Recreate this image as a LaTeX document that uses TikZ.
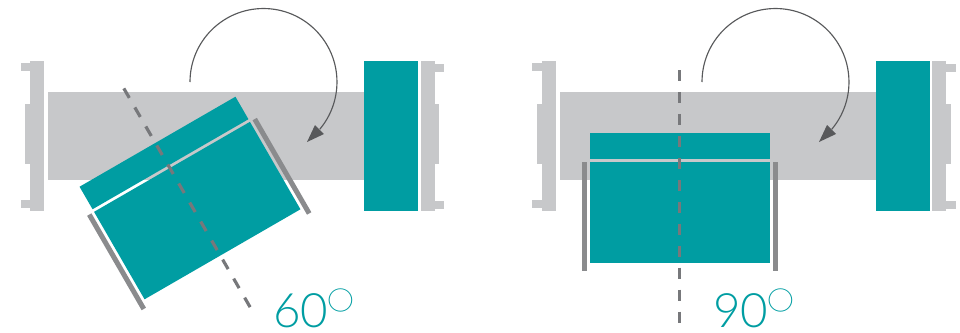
\documentclass[tikz,border=0pt]{standalone}
\usepackage{fontspec}
\usepackage{tikz}
\setmainfont{Lato Light}
\newfontfamily\degfont{Lato Thin}
\definecolor{tealc}{HTML}{009DA2}
\definecolor{barc}{HTML}{C7C8CA}
\definecolor{sidec}{HTML}{8A8B8D}
\definecolor{axisc}{HTML}{77787B}
\definecolor{arcc}{HTML}{58595B}
\newcommand{\degmark}{\hspace{-2.5pt}\raisebox{-12.5pt}{\degfont\fontsize{48}{48}\selectfont °}}
\tikzset{
  panel/.style={fill=tealc, draw=none},
  frame/.style={fill=barc, draw=none},
  sidebar/.style={fill=sidec, draw=none},
  axisline/.style={draw=axisc, line width=1.8pt, dash pattern=on 6.25pt off 6.25pt},
  swing/.style={draw=arcc, line width=0.65pt},
  swinghead/.style={fill=arcc, draw=none},
  angle/.style={text=tealc, font=\fontsize{27}{27}\selectfont, inner sep=0pt, anchor=base west}
}
\begin{document}
\begin{tikzpicture}[x=0.02cm, y=-0.02cm]
    \useasboundingbox (0,0) rectangle (960,332);

    % Left door
    \fill[frame] (30,61) rectangle (44,211);
    \fill[frame] (21,63) rectangle (30,71);
    \fill[frame] (21,200) rectangle (30,208);
    \fill[frame] (25,104) rectangle (30,164);
    \fill[frame] (48,92) rectangle (364,180);
    \fill[panel] (364,61) rectangle (418,211);
    \fill[frame] (421,61) rectangle (435,211);
    \fill[frame] (435,64) rectangle (444,72);
    \fill[frame] (435,201) rectangle (444,209);
    \fill[frame] (435,104) rectangle (439,164);

    \begin{scope}[shift={(190,198)}, rotate=30]
        \fill[panel] (-90,-65) rectangle (90,-39);
        \fill[panel] (-90,-36) rectangle (90,65);
        \fill[sidebar] (-98,-36) rectangle (-93,73);
        \fill[sidebar] (93,-36) rectangle (98,73);
        \coordinate (lefttop) at (-2.5,-128);
        \coordinate (leftend) at (-2.5,127);
    \end{scope}
    \draw[axisline] (lefttop) -- (leftend);

    \coordinate (leftstart) at (190,82);
    \coordinate (lefttip) at (307,142);
    \draw[swing] (leftstart) arc[start angle=180, end angle=-40, radius=1.47cm];
    \fill[swinghead] (lefttip) -- (315,125) -- (324,134) -- cycle;
    \node[angle] (leftangle) at (273,327) {60\degmark};

    % Right door
    \fill[frame] (542,61) rectangle (556,211);
    \fill[frame] (532,63) rectangle (542,71);
    \fill[frame] (532,200) rectangle (542,208);
    \fill[frame] (537,104) rectangle (542,164);
    \fill[frame] (560,92) rectangle (876,180);
    \fill[panel] (876,61) rectangle (930,211);
    \fill[frame] (932,61) rectangle (946,211);
    \fill[frame] (946,64) rectangle (956,72);
    \fill[frame] (946,201) rectangle (956,209);
    \fill[frame] (946,104) rectangle (951,164);

    \begin{scope}[shift={(680,198)}]
        \fill[panel] (-90,-65) rectangle (90,-39);
        \fill[panel] (-90,-36) rectangle (90,65);
        \fill[sidebar] (-98,-36) rectangle (-93,73);
        \fill[sidebar] (93,-36) rectangle (98,73);
        \coordinate (righttop) at (-0.7,-128);
        \coordinate (rightend) at (-0.7,127);
    \end{scope}
    \draw[axisline] (righttop) -- (rightend);

    \coordinate (rightstart) at (702,82);
    \coordinate (righttip) at (819,142);
    \draw[swing] (rightstart) arc[start angle=180, end angle=-40, radius=1.47cm];
    \fill[swinghead] (righttip) -- (827,125) -- (836,134) -- cycle;
    \node[angle] (rightangle) at (713,327) {90\degmark};
\end{tikzpicture}
\end{document}
